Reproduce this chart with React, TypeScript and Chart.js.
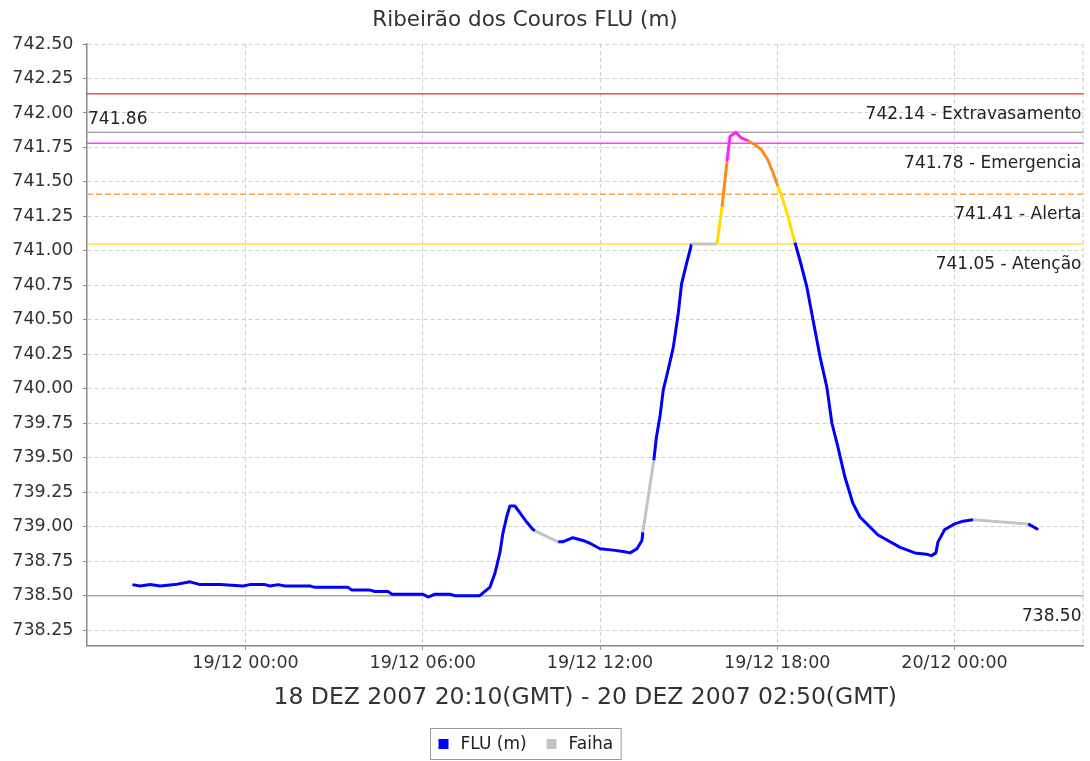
import React, { useEffect, useRef } from "react";
import { Chart, registerables } from "chart.js";

Chart.register(...registerables);

const TITLE = "Ribeirão dos Couros FLU (m)";
const X_TITLE = "18 DEZ 2007 20:10(GMT) - 20 DEZ 2007 02:50(GMT)";
const SERIES_LABELS = ["FLU (m)", "Faiha"];

// hours since 19/12/2007 00:00 GMT
const fluHours = [
  -3.83, -3.57, -3.23, -2.89, -2.39, -1.88, -1.54, -0.86, -0.08, 0.15, 0.66, 0.83, 1.1, 1.34,
  2.18, 2.35, 3.47, 3.6, 4.21, 4.38, 4.82, 4.96, 6.01, 6.18, 6.41, 6.92, 7.09, 7.93, 8.04,
  8.27, 8.44, 8.61, 8.71, 8.85, 8.95, 9.12, 9.29, 9.53, 9.73, 9.8,
  10.2,
  10.58, 10.74, 11.08, 11.42, 11.66, 12.0, 12.44, 12.78, 13.02, 13.25, 13.42, 13.45,
  13.6,
  13.82, 13.91, 14.03, 14.14, 14.31, 14.48, 14.65, 14.76, 14.93, 15.1,
  15.5,
  15.96, 16.13, 16.3, 16.4, 16.6, 16.77, 17.01, 17.24, 17.48, 17.68, 17.85, 18.02, 18.16,
  18.36, 18.6, 18.77, 19.0, 19.21, 19.45, 19.68, 19.85, 20.05, 20.29, 20.56, 20.8, 21.41,
  21.58, 22.16, 22.66, 23.05, 23.22, 23.37, 23.44, 23.67, 24.01, 24.29, 24.63,
  25.5,
  26.49, 26.83,
];
const fluLevels: (number | null)[] = [
  738.58, 738.57, 738.58, 738.57, 738.58, 738.6, 738.58, 738.58, 738.57, 738.58, 738.58, 738.57, 738.58, 738.57,
  738.57, 738.56, 738.56, 738.54, 738.54, 738.53, 738.53, 738.51, 738.51, 738.49, 738.51, 738.51, 738.5, 738.5, 738.52,
  738.56, 738.66, 738.81, 738.95, 739.08, 739.15, 739.15, 739.1, 739.03, 738.98, 738.97,
  null,
  738.89, 738.89, 738.92, 738.9, 738.88, 738.84, 738.83, 738.82, 738.81, 738.84, 738.9, 738.96,
  null,
  739.48, 739.65, 739.8, 739.99, 740.14, 740.3, 740.55, 740.76, 740.91, 741.05,
  null,
  741.05, 741.32, 741.65, 741.83, 741.86, 741.82, 741.8, 741.77, 741.73, 741.66, 741.57, 741.47, 741.39,
  741.25, 741.06, 740.93, 740.74, 740.5, 740.23, 740.01, 739.75, 739.58, 739.36, 739.17, 739.07, 738.94,
  738.92, 738.85, 738.81, 738.8, 738.79, 738.81, 738.89, 738.98, 739.02, 739.04, 739.05,
  null,
  739.02, 738.98,
];

// failure (Faiha) stretches
const faihaHours = [9.8, 10.58, 12.0, 13.45, 13.82, 14.5, 15.1, 15.96, 20.0, 24.63, 26.49];
const faihaLevels: (number | null)[] = [738.97, 738.89, null, 738.96, 739.48, null, 741.05, 741.05, null, 739.05, 739.02];

const thresholdValues = [742.14, 741.78, 741.41, 741.05];
const thresholdNames = ["Extravasamento", "Emergencia", "Alerta", "Atenção"];
const thresholdLineColors = ["#ff4a4a", "#ff40ff", "#ffa24a", "#ffe33a"];
const thresholdDashed = [false, false, true, false];
const bandValues = [741.78, 741.41, 741.05];
const bandColors = ["#ff20ff", "#ff8a1e", "#ffdd00"];
const normalColor = "#0000ff";
const faihaColor = "#c4c4c4";

const maxLevel = 741.86;
const minLevel = 738.5;

const xTickHours = [0, 6, 12, 18, 24];
const xTickLabels = ["19/12 00:00", "19/12 06:00", "19/12 12:00", "19/12 18:00", "20/12 00:00"];
const X_MIN = -5.367;
const X_MAX = 28.367;
const Y_MIN = 738.137;
const Y_MAX = 742.5;
const Y_STEP = 0.25;

const FONT = "DejaVu Sans";

function bandColor(v: number): string {
  for (let i = 0; i < bandValues.length; i++) {
    if (v > bandValues[i]) return bandColors[i];
  }
  return normalColor;
}

const overlayPlugin = {
  id: "overlay",
  beforeDatasetsDraw(chart: any) {
    const { ctx, chartArea: a, scales } = chart;
    const y = scales.y;
    ctx.save();
    // dashed right outline
    ctx.strokeStyle = "#c8c8c8";
    ctx.lineWidth = 1;
    ctx.setLineDash([4, 3]);
    ctx.beginPath();
    ctx.moveTo(a.right - 0.5, a.top);
    ctx.lineTo(a.right - 0.5, a.bottom);
    ctx.stroke();
    // max / min lines
    ctx.setLineDash([]);
    ctx.lineWidth = 1.5;
    ctx.strokeStyle = "#a8a8a8";
    for (const v of [maxLevel, minLevel]) {
      const py = y.getPixelForValue(v);
      ctx.beginPath();
      ctx.moveTo(a.left, py);
      ctx.lineTo(a.right, py);
      ctx.stroke();
    }
    // thresholds
    thresholdValues.forEach((v, i) => {
      const py = y.getPixelForValue(v);
      ctx.strokeStyle = thresholdLineColors[i];
      ctx.lineWidth = 1.5;
      ctx.setLineDash(thresholdDashed[i] ? [6, 3] : []);
      ctx.beginPath();
      ctx.moveTo(a.left, py);
      ctx.lineTo(a.right, py);
      ctx.stroke();
    });
    ctx.restore();
  },
  afterDatasetsDraw(chart: any) {
    const { ctx, chartArea: a, scales } = chart;
    const y = scales.y;
    ctx.save();
    ctx.fillStyle = "#222";
    ctx.font = `17px '${FONT}'`;
    ctx.textBaseline = "alphabetic";
    ctx.textAlign = "right";
    thresholdValues.forEach((v, i) => {
      const py = y.getPixelForValue(v);
      ctx.fillText(`${v.toFixed(2)} - ${thresholdNames[i]}`, a.right - 2, py + 25);
    });
    ctx.fillText(minLevel.toFixed(2), a.right - 2, y.getPixelForValue(minLevel) + 25);
    ctx.textAlign = "left";
    ctx.fillText(maxLevel.toFixed(2), a.left + 1, y.getPixelForValue(maxLevel) - 8);
    ctx.restore();
  },
  afterDraw(chart: any) {
    const { ctx } = chart;
    ctx.save();
    // title
    ctx.fillStyle = "#333";
    ctx.font = `21.5px '${FONT}'`;
    ctx.textAlign = "center";
    ctx.textBaseline = "alphabetic";
    ctx.fillText(TITLE, 525, 26);
    // legend
    ctx.font = `17px '${FONT}'`;
    const colors = [normalColor, faihaColor];
    const sq = 10;
    const gapSq = 12;
    const gapItem = 20;
    const pad = 8;
    const widths = SERIES_LABELS.map((t) => ctx.measureText(t).width);
    const total = widths.reduce((s, w) => s + sq + gapSq + w, 0) + gapItem * (widths.length - 1);
    const boxW = total + pad * 2;
    const cx = 525;
    const boxX = Math.round(cx - boxW / 2) + 0.5;
    const boxY = 728.5;
    const boxH = 31;
    ctx.fillStyle = "#fff";
    ctx.fillRect(boxX, boxY, boxW, boxH);
    ctx.strokeStyle = "#9a9a9a";
    ctx.lineWidth = 1;
    ctx.strokeRect(boxX, boxY, boxW, boxH);
    let px = boxX + pad;
    const cy = boxY + boxH / 2;
    SERIES_LABELS.forEach((t, i) => {
      ctx.fillStyle = colors[i];
      ctx.fillRect(px, cy - sq / 2, sq, sq);
      px += sq + gapSq;
      ctx.fillStyle = "#222";
      ctx.textAlign = "left";
      ctx.textBaseline = "middle";
      ctx.fillText(t, px, cy + 1);
      px += widths[i] + gapItem;
    });
    ctx.restore();
  },
};

export default function App() {
  const ref = useRef<HTMLCanvasElement | null>(null);

  useEffect(() => {
    document.body.style.margin = "0";
    const canvas = ref.current;
    if (!canvas) return;
    const fluData = fluHours.map((h, i) => ({ x: h, y: fluLevels[i] }));
    const faihaData = faihaHours.map((h, i) => ({ x: h, y: faihaLevels[i] }));
    const tickFont = { family: FONT, size: 17.5 };
    const chart = new Chart(canvas, {
      type: "line",
      data: {
        datasets: [
          {
            label: SERIES_LABELS[1],
            data: faihaData as any,
            borderColor: faihaColor,
            backgroundColor: faihaColor,
            borderWidth: 3,
            pointRadius: 0,
            spanGaps: false,
            tension: 0,
          },
          {
            label: SERIES_LABELS[0],
            data: fluData as any,
            borderColor: normalColor,
            backgroundColor: normalColor,
            borderWidth: 3,
            borderJoinStyle: "round",
            pointRadius: 0,
            spanGaps: false,
            tension: 0,
            segment: {
              borderColor: (c: any) => bandColor(c.p1.parsed.y),
            },
          },
        ],
      },
      options: {
        animation: false,
        responsive: false,
        maintainAspectRatio: false,
        layout: { padding: { left: 0, right: 6.5, top: 44, bottom: 0 } },
        plugins: {
          legend: { display: false },
          title: { display: false },
          tooltip: { enabled: false },
        },
        scales: {
          x: {
            type: "linear",
            min: X_MIN,
            max: X_MAX,
            afterBuildTicks: (s: any) => {
              s.ticks = xTickHours.map((v) => ({ value: v }));
            },
            afterFit: (s: any) => {
              s.height = 761 - 645.7;
            },
            ticks: {
              autoSkip: false,
              maxRotation: 0,
              padding: 3,
              color: "#333",
              font: tickFont,
              callback: (_v: any, i: number) => xTickLabels[i],
            },
            grid: {
              color: "#cfcfcf",
              lineWidth: 1,
              drawTicks: true,
              tickLength: 4,
              tickColor: "#888",
              tickBorderDash: [],
            },
            border: { display: true, color: "#888", width: 1.5, dash: [4, 3] },
            title: {
              display: true,
              text: X_TITLE,
              color: "#333",
              font: { family: FONT, size: 23.5 },
              padding: { top: 0, bottom: 49 },
            },
          },
          y: {
            type: "linear",
            min: Y_MIN,
            max: Y_MAX,
            afterFit: (s: any) => {
              s.width = 87;
            },
            ticks: {
              stepSize: Y_STEP,
              includeBounds: false,
              padding: 9.5,
              color: "#333",
              font: tickFont,
              callback: (v: any) => Number(v).toFixed(2),
            },
            grid: {
              color: "#cfcfcf",
              lineWidth: 1,
              drawTicks: true,
              tickLength: 4,
              tickColor: "#888",
              tickBorderDash: [],
            },
            border: { display: true, color: "#888", width: 1.5, dash: [4, 3] },
          },
        },
      },
      plugins: [overlayPlugin],
    });
    return () => chart.destroy();
  }, []);

  return (
    <div style={{ position: "absolute", left: 0, top: 0, width: 1090, height: 761, background: "#fff" }}>
      <canvas ref={ref} width={1090} height={761} style={{ display: "block" }} />
    </div>
  );
}
